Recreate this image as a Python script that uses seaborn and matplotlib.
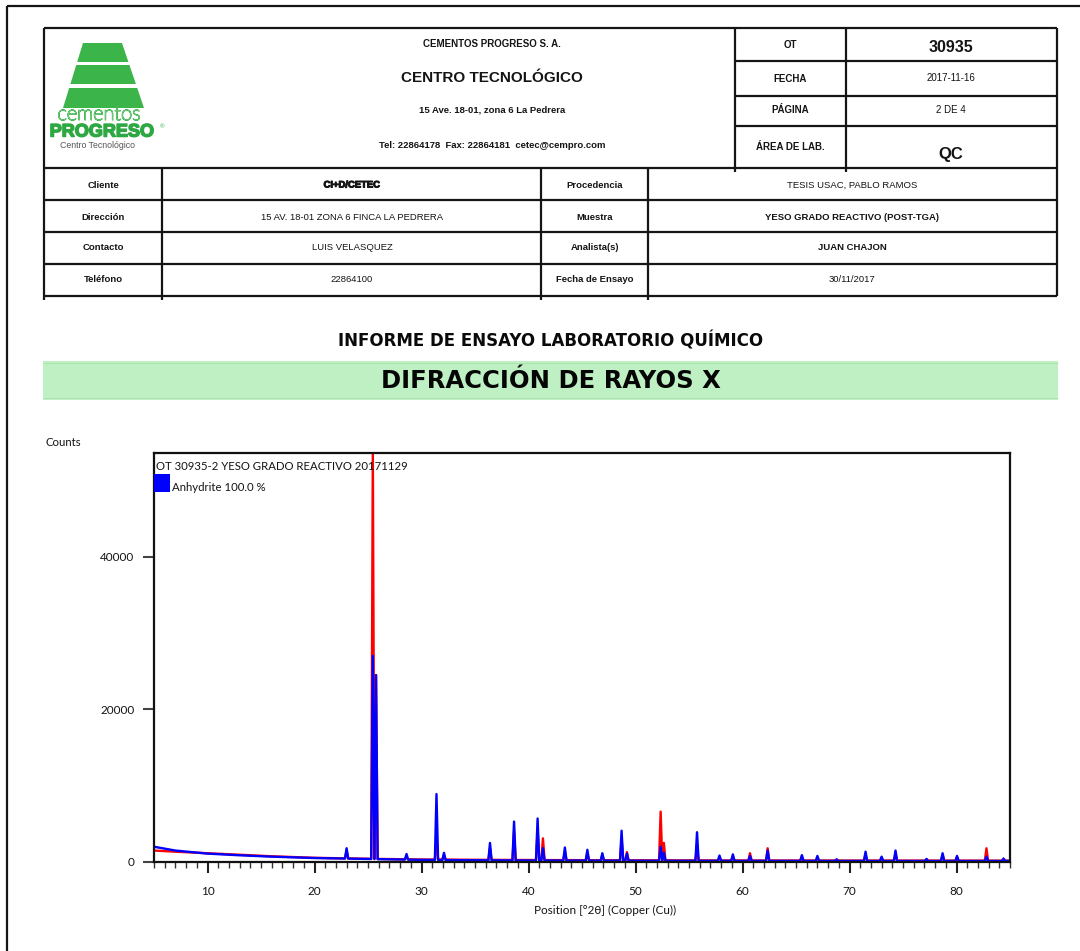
import numpy as np
import matplotlib
matplotlib.use("Agg")
import matplotlib.pyplot as plt
import seaborn as sns
from matplotlib.lines import Line2D
from matplotlib.patches import Polygon, Rectangle
from matplotlib.ticker import MultipleLocator, FixedLocator
import matplotlib.patheffects as pe

# ---------------------------------------------------------------- data
# Smooth background of the scan (2theta in degrees, counts)
bg_pos = [5, 7, 10, 13, 16, 20, 25, 30, 35, 40, 50, 60, 70, 85]
bg_measured = [1500, 1350, 1150, 950, 750, 550, 420, 330, 290, 260, 220, 200, 190, 180]
bg_anhydrite = [2000, 1500, 1100, 880, 700, 520, 400, 280, 230, 200, 170, 150, 140, 130]

# Reflections: position (deg 2theta) and apex counts for each trace
peak_pos = [23.0, 25.45, 25.75, 28.6, 31.4, 32.1, 36.4, 38.65, 40.85, 41.35,
            43.4, 45.5, 46.9, 48.7, 49.2, 52.35, 52.65, 55.75, 57.85, 59.1,
            60.7, 62.35, 65.55, 67.0, 68.8, 71.5, 73.0, 74.3, 77.2, 78.7,
            80.05, 82.8, 84.4]
peak_measured = [1500, 54000, 24500, 700, 3200, 900, 1800, 4000, 4200, 3100,
                 1400, 1200, 900, 3000, 1300, 6600, 2500, 2000, 650, 800,
                 1150, 1800, 700, 600, 300, 1000, 550, 1100, 350, 900,
                 650, 1800, 400]
peak_anhydrite = [1800, 27000, 24500, 1050, 8900, 1200, 2500, 5300, 5700, 1800,
                  1900, 1600, 1150, 4100, 1100, 2000, 1200, 3900, 850, 1000,
                  800, 1500, 900, 800, 350, 1350, 700, 1500, 400, 1150,
                  800, 700, 450]

x_ticks = [10, 20, 30, 40, 50, 60, 70, 80]
y_ticks = [0, 20000, 40000]
y_tick_labels = ["0", "20000", "40000"]

scan_title = "OT 30935-2 YESO GRADO REACTIVO 20171129"
phase_label = "Anhydrite 100.0 %"

head_labels = ["OT", "FECHA", "PÁGINA", "ÁREA DE LAB."]
head_values = ["30935", "2017-11-16", "2 DE 4", "QC"]

info_labels_left = ["Cliente", "Dirección", "Contacto", "Teléfono"]
info_values_left = ["CI+D/CETEC", "15 AV. 18-01 ZONA 6 FINCA LA PEDRERA",
                    "LUIS VELASQUEZ", "22864100"]
info_labels_right = ["Procedencia", "Muestra", "Analista(s)", "Fecha de Ensayo"]
info_values_right = ["TESIS USAC, PABLO RAMOS", "YESO GRADO REACTIVO (POST-TGA)",
                     "JUAN CHAJON", "30/11/2017"]

# ---------------------------------------------------------------- figure
W, H = 1080, 951
sns.set_style("white")
plt.rcParams["font.family"] = ["Liberation Sans", "DejaVu Sans"]

fig = plt.figure(figsize=(W / 100, H / 100), dpi=100)
fig.patch.set_facecolor("white")


def fx(x):
    return x / W


def fy(y):
    return 1 - y / H


def hline(y, x0, x1, lw=1.6, color="#151515"):
    fig.add_artist(Line2D([fx(x0), fx(x1)], [fy(y), fy(y)], transform=fig.transFigure,
                          color=color, lw=lw, solid_capstyle="butt"))


def vline(x, y0, y1, lw=1.6, color="#151515"):
    fig.add_artist(Line2D([fx(x), fx(x)], [fy(y0), fy(y1)], transform=fig.transFigure,
                          color=color, lw=lw, solid_capstyle="butt"))


def txt(x, y, s, size, weight="bold", ha="center", family=None, color="#141414", **kw):
    fam = family if family is not None else ["Liberation Sans", "DejaVu Sans"]
    return fig.text(fx(x), fy(y), s, ha=ha, va="center", fontsize=size,
                    fontweight=weight, family=fam, color=color, **kw)


# page frame
hline(6, 7, W, lw=1.6)
vline(7, 6, H, lw=1.6)

# ---------------------------------------------------------------- header table
hline(28, 44, 1057)
hline(168, 44, 1057)
for y in (61, 96, 126):
    hline(y, 735, 1057)
vline(44, 28, 300)
vline(1057, 28, 296)
vline(735, 28, 172)
vline(846, 28, 172)
for y in (200, 232, 264, 296):
    hline(y, 44, 1057)
for x in (162, 541, 648):
    vline(x, 168, 300)

# logo: three stacked trapezoids
green = "#3bb44a"
left_edge = lambda y: 83 - (y - 43) * 20 / 65
right_edge = lambda y: 122 + (y - 43) * 22 / 65
for y0, y1 in [(43, 62), (65, 84), (88, 108)]:
    pts = [(fx(left_edge(y0)), fy(y0)), (fx(right_edge(y0)), fy(y0)),
           (fx(right_edge(y1)), fy(y1)), (fx(left_edge(y1)), fy(y1))]
    fig.add_artist(Polygon(pts, closed=True, transform=fig.transFigure,
                           facecolor=green, edgecolor="none"))
t = txt(99, 115, "cementos", 14.5, weight="light", family=["Lato", "DejaVu Sans"],
        color="white")
t.set_path_effects([pe.Stroke(linewidth=0.9, foreground=green), pe.Normal()])
t = txt(102, 132, "PROGRESO", 13, weight="bold", color="#2ea843")
t.set_path_effects([pe.Stroke(linewidth=1.1, foreground="#2ea843"), pe.Normal()])
txt(162, 127, "®", 4.5, weight="normal", color="#2ea843")
txt(98, 145, "Centro Tecnológico", 6.3, weight="normal", color="#555555")

# company block
txt(492, 44, "CEMENTOS PROGRESO S. A.", 7)
txt(492, 78, "CENTRO TECNOLÓGICO", 11)
txt(492, 110, "15 Ave. 18-01, zona 6 La Pedrera", 6.8)
txt(492, 146, "Tel: 22864178  Fax: 22864181  cetec@cempro.com", 6.8)

# document id block
head_y_label = [45, 79, 110, 147]
head_y_value = [48, 78, 110, 155]
head_sizes = [11.5, 7, 7, 12]
for lab, val, yl, yv, sz in zip(head_labels, head_values, head_y_label, head_y_value, head_sizes):
    txt(790, yl, lab, 7)
    txt(951, yv, val, sz, weight="bold" if sz > 10 else "normal")

# client / sample block
row_y = [185, 217, 248, 280]
left_w = ["heavy", "normal", "normal", "normal"]
right_w = ["normal", "bold", "bold", "normal"]
for i, y in enumerate(row_y):
    txt(103, y, info_labels_left[i], 6.8)
    t = txt(352, y, info_values_left[i], 6.8, weight="bold" if left_w[i] == "heavy" else "normal")
    if left_w[i] == "heavy":
        t.set_path_effects([pe.Stroke(linewidth=0.7, foreground="#141414"), pe.Normal()])
    txt(595, y, info_labels_right[i], 6.8)
    txt(852, y, info_values_right[i], 6.8, weight=right_w[i])

# report title and banner
txt(551, 341, "INFORME DE ENSAYO LABORATORIO QUÍMICO", 12,
    family=["DejaVu Sans"], color="#0a0a0a")
fig.add_artist(Rectangle((fx(43), fy(400)), fx(1058) - fx(43), fy(361) - fy(400),
                         transform=fig.transFigure, facecolor="#bff0c3", edgecolor="none"))
hline(363, 43, 1058, lw=0.6, color="#a8e0ad")
hline(398, 43, 1058, lw=0.6, color="#a8e0ad")
txt(551, 381, "DIFRACCIÓN DE RAYOS X", 17.5, family=["DejaVu Sans"], color="#050505")

# ---------------------------------------------------------------- diffractogram
ax = fig.add_axes([fx(154), fy(862), fx(1010) - fx(154), fy(453) - fy(862)])
ax.set_facecolor("white")

HALF_WIDTH = 0.15


def build_trace(bg_vals, apex_vals):
    xs = list(bg_pos)
    ys = list(bg_vals)
    for p, h in zip(peak_pos, apex_vals):
        for dx in (-HALF_WIDTH, HALF_WIDTH):
            xs.append(p + dx)
            ys.append(float(np.interp(p + dx, bg_pos, bg_vals)))
        xs.append(p)
        ys.append(h)
    order = np.argsort(xs, kind="stable")
    return np.asarray(xs)[order], np.asarray(ys)[order]


xr, yr = build_trace(bg_measured, peak_measured)
xb, yb = build_trace(bg_anhydrite, peak_anhydrite)
sns.lineplot(x=xr, y=yr, ax=ax, color="#ff0000", lw=1.7, estimator=None, sort=False)
sns.lineplot(x=xb, y=yb, ax=ax, color="#0000ff", lw=1.7, estimator=None, sort=False)

ax.set_xlim(5, 85)
ax.set_ylim(0, 53600)
ax.set_xlabel("")
ax.set_ylabel("")
for s in ax.spines.values():
    s.set_visible(True)
    s.set_color("#111111")
    s.set_linewidth(1.6)

tick_font = {"family": ["Lato", "DejaVu Sans"], "size": 8.5, "color": "#141414"}
ax.xaxis.set_major_locator(FixedLocator(x_ticks))
ax.xaxis.set_minor_locator(MultipleLocator(1))
ax.set_xticklabels([str(v) for v in x_ticks], fontdict=tick_font)
ax.yaxis.set_major_locator(FixedLocator(y_ticks))
ax.set_yticklabels(y_tick_labels, fontdict=tick_font)
ax.tick_params(axis="x", which="major", bottom=True, length=8, width=1.5,
               direction="out", pad=9, colors="#222222", labelcolor="#141414")
ax.tick_params(axis="x", which="minor", bottom=True, length=4, width=1.0,
               direction="out", colors="#333333")
ax.tick_params(axis="y", which="major", left=True, length=8, width=1.5,
               direction="out", pad=6, colors="#444444", labelcolor="#141414")

# scan name and phase legend
txt(156, 466, scan_title, 8.2, weight="normal", ha="left",
    family=["Lato", "DejaVu Sans"], color="#141414")
fig.add_artist(Rectangle((fx(154), fy(492)), fx(170) - fx(154), fy(474) - fy(492),
                         transform=fig.transFigure, facecolor="#0000ff", edgecolor="none"))
txt(172, 487, phase_label, 8.2, weight="normal", ha="left",
    family=["Lato", "DejaVu Sans"], color="#141414")

txt(45, 443, "Counts", 8.2, weight="normal", ha="left",
    family=["Lato", "DejaVu Sans"], color="#141414")
txt(605, 910, "Position [°2θ] (Copper (Cu))", 8.5, weight="normal",
    family=["Lato", "DejaVu Sans"], color="#141414")

fig.savefig("out.png", dpi=100)
